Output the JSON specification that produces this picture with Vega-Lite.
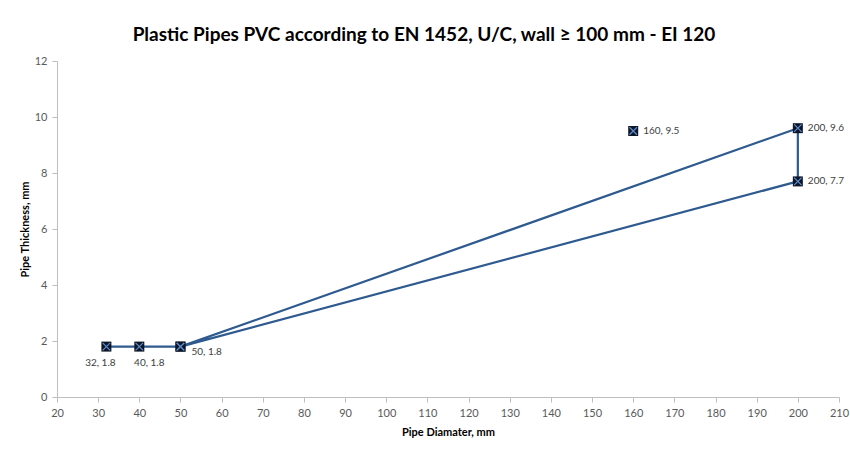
{
  "$schema": "https://vega.github.io/schema/vega-lite/v6.json",
  "autosize": {"type": "none"},
  "width": 782,
  "height": 336,
  "padding": {"left": 57, "top": 61, "right": 11, "bottom": 53},
  "background": "white",
  "title": {
    "text": "Plastic Pipes PVC according to EN 1452, U/C, wall ≥ 100 mm - EI 120",
    "font": "Lato",
    "fontSize": 19,
    "fontWeight": "bold",
    "color": "#000000",
    "anchor": "middle",
    "frame": "group",
    "dx": -24,
    "offset": 10
  },
  "config": {
    "view": {"stroke": null},
    "font": "Lato"
  },
  "data": {
    "values": [
      {"d": 32, "t": 1.8, "o": 1, "s": "line", "pos": "belowleft"},
      {"d": 40, "t": 1.8, "o": 2, "s": "line", "pos": "belowright"},
      {"d": 50, "t": 1.8, "o": 3, "s": "line", "pos": "rightlow"},
      {"d": 200, "t": 9.6, "o": 4, "s": "line", "pos": "right"},
      {"d": 200, "t": 7.7, "o": 5, "s": "line", "pos": "right"},
      {"d": 50, "t": 1.8, "o": 6, "s": "line", "pos": "none"},
      {"d": 160, "t": 9.5, "o": 7, "s": "single", "pos": "right"}
    ]
  },
  "transform": [
    {"calculate": "datum.d + ', ' + datum.t", "as": "lab"}
  ],
  "encoding": {
    "x": {
      "field": "d",
      "type": "quantitative",
      "scale": {"domain": [20, 210], "nice": false, "zero": false},
      "axis": {
        "values": [20, 30, 40, 50, 60, 70, 80, 90, 100, 110, 120, 130, 140, 150, 160, 170, 180, 190, 200, 210],
        "title": "Pipe Diamater, mm",
        "titleFont": "Lato",
        "titleFontSize": 11,
        "titleFontWeight": "bold",
        "titleColor": "#000000",
        "titlePadding": 8,
        "labelFont": "Lato",
        "labelFontSize": 11,
        "labelColor": "#595959",
        "labelPadding": 5,
        "domainColor": "#bfbfbf",
        "tickColor": "#bfbfbf",
        "tickSize": 5,
        "grid": false,
        "labelFlush": false,
        "labelOverlap": false
      }
    },
    "y": {
      "field": "t",
      "type": "quantitative",
      "scale": {"domain": [0, 12], "nice": false},
      "axis": {
        "values": [0, 2, 4, 6, 8, 10, 12],
        "title": "Pipe Thickness, mm",
        "titleFont": "Lato",
        "titleFontSize": 11,
        "titleFontWeight": "bold",
        "titleColor": "#000000",
        "titlePadding": 4,
        "labelFont": "Lato",
        "labelFontSize": 11,
        "labelColor": "#595959",
        "labelPadding": 5,
        "domainColor": "#bfbfbf",
        "tickColor": "#bfbfbf",
        "tickSize": 5,
        "grid": false,
        "labelFlush": false
      }
    }
  },
  "layer": [
    {
      "transform": [{"filter": "datum.s == 'line'"}],
      "mark": {"type": "line", "color": "#2e5a8f", "strokeWidth": 2.2},
      "encoding": {"order": {"field": "o", "type": "quantitative"}}
    },
    {
      "mark": {"type": "point", "shape": "square", "filled": true, "color": "#0e1526", "size": 100, "opacity": 1}
    },
    {
      "mark": {"type": "point", "shape": "M-0.75,-0.75L0.75,0.75M-0.75,0.75L0.75,-0.75", "filled": false, "color": "#5b8fd0", "strokeWidth": 1.2, "size": 100, "opacity": 1}
    },
    {
      "transform": [{"filter": "datum.pos == 'belowleft'"}],
      "mark": {"type": "text", "font": "Lato", "fontSize": 10, "color": "#404040", "align": "center", "baseline": "middle", "dx": -6, "dy": 16},
      "encoding": {"text": {"field": "lab"}}
    },
    {
      "transform": [{"filter": "datum.pos == 'belowright'"}],
      "mark": {"type": "text", "font": "Lato", "fontSize": 10, "color": "#404040", "align": "center", "baseline": "middle", "dx": 10, "dy": 16},
      "encoding": {"text": {"field": "lab"}}
    },
    {
      "transform": [{"filter": "datum.pos == 'rightlow'"}],
      "mark": {"type": "text", "font": "Lato", "fontSize": 10, "color": "#404040", "align": "left", "baseline": "middle", "dx": 11, "dy": 5},
      "encoding": {"text": {"field": "lab"}}
    },
    {
      "transform": [{"filter": "datum.pos == 'right'"}],
      "mark": {"type": "text", "font": "Lato", "fontSize": 10, "color": "#404040", "align": "left", "baseline": "middle", "dx": 10, "dy": 0},
      "encoding": {"text": {"field": "lab"}}
    }
  ]
}
